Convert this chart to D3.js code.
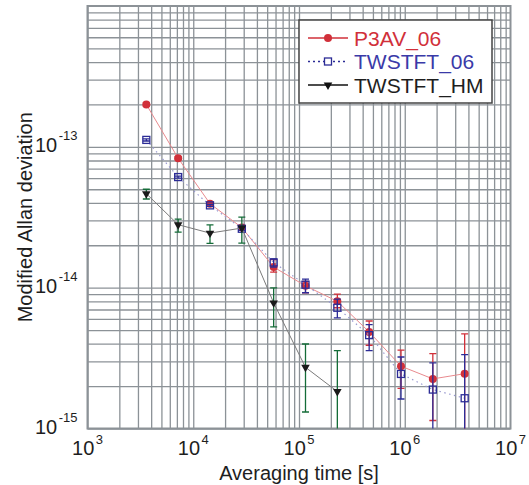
<!DOCTYPE html>
<html>
<head>
<meta charset="utf-8">
<script src="https://cdn.jsdelivr.net/npm/d3@7"></script>
<style>
  body { margin: 0; background: #fff; }
  text { font-family: "Liberation Sans", Arial, sans-serif; }
</style>
</head>
<body>
<div id="chart"></div>
<script>
// averaging times [s]
const taus = [3600, 7200, 14400, 28800, 57600, 115200, 230400, 460800, 921600, 1843200, 3686400];

const p3avValues = [2.0e-13, 8.3e-14, 3.95e-14, 2.67e-14, 1.40e-14, 1.03e-14, 8.0e-15, 4.85e-15, 2.77e-15, 2.25e-15, 2.45e-15];
const p3avUpper  = [2.05e-13, 8.5e-14, 4.05e-14, 2.75e-14, 1.58e-14, 1.11e-14, 9.0e-15, 5.8e-15, 3.6e-15, 3.4e-15, 4.7e-15];
const p3avLower  = [1.95e-13, 8.1e-14, 3.85e-14, 2.6e-14, 1.29e-14, 0.92e-14, 7.2e-15, 3.9e-15, 1.93e-15, 1.14e-15, 0.8e-15];

const tw06Values = [1.12e-13, 6.1e-14, 3.84e-14, 2.62e-14, 1.51e-14, 1.05e-14, 7.2e-15, 4.6e-15, 2.44e-15, 1.89e-15, 1.64e-15];
const tw06Upper  = [1.14e-13, 6.2e-14, 3.9e-14, 2.7e-14, 1.6e-14, 1.15e-14, 8.3e-15, 5.47e-15, 3.22e-15, 2.92e-15, 3.35e-15];
const tw06Lower  = [1.10e-13, 6.0e-14, 3.78e-14, 2.55e-14, 1.4e-14, 9.2e-15, 6.1e-15, 3.57e-15, 1.62e-15, 0.8e-15, 0.8e-15];

const hmTaus   = [3600, 7200, 14400, 28800, 57600, 115200, 230400];
const hmValues = [4.65e-14, 2.8e-14, 2.44e-14, 2.65e-14, 7.8e-15, 2.72e-15, 1.83e-15];
const hmUpper  = [5.0e-14, 3.07e-14, 2.79e-14, 3.17e-14, 9.95e-15, 3.98e-15, 3.57e-15];
const hmLower  = [4.26e-14, 2.48e-14, 2.06e-14, 2.07e-14, 5.26e-15, 1.31e-15, 0.8e-15];

const xTicks = [1e3, 1e4, 1e5, 1e6, 1e7];
const xExps = ["3", "4", "5", "6", "7"];
const yTicks = [1e-15, 1e-14, 1e-13];
const yExps = ["-15", "-14", "-13"];

const width = 529, height = 485;
const margin = { top: 6, right: 18.5, bottom: 56.5, left: 87.5 };
const innerWidth = width - margin.left - margin.right;
const innerHeight = height - margin.top - margin.bottom;

const svg = d3.select("#chart").append("svg")
  .attr("width", width).attr("height", height);

const g = svg.append("g").attr("transform", `translate(${margin.left},${margin.top})`);

const x = d3.scaleLog().domain([1e3, 1e7]).range([0, innerWidth]);
const y = d3.scaleLog().domain([1e-15, 1e-12]).range([innerHeight, 0]);

const gridColor = "#8c9297";
const textColor = "#1e1e1e";

// minor grid values
const xGrid = [];
for (let e = 3; e < 7; e++) for (let m = 1; m < 10; m++) xGrid.push(m * Math.pow(10, e));
const yGrid = [];
for (let e = -15; e < -12; e++) for (let m = 1; m < 10; m++) yGrid.push(m * Math.pow(10, e));

g.append("g")
  .attr("transform", `translate(0,${innerHeight})`)
  .call(d3.axisBottom(x).tickValues(xGrid).tickSize(-innerHeight).tickFormat(""))
  .call(a => a.select(".domain").remove())
  .call(a => a.selectAll("text").remove())
  .call(a => a.selectAll("line").attr("stroke", gridColor).attr("stroke-width", 1.3));

g.append("g")
  .call(d3.axisLeft(y).tickValues(yGrid).tickSize(-innerWidth).tickFormat(""))
  .call(a => a.select(".domain").remove())
  .call(a => a.selectAll("text").remove())
  .call(a => a.selectAll("line").attr("stroke", gridColor).attr("stroke-width", 1.3));

g.append("rect")
  .attr("width", innerWidth).attr("height", innerHeight)
  .attr("fill", "none").attr("stroke", gridColor).attr("stroke-width", 2);

// tick labels: "10" plus a raised exponent, as two texts
const gap = 1.5;
const xLab = g.append("g").attr("transform", `translate(0,${innerHeight})`)
  .selectAll("g").data(xTicks).join("g")
  .attr("transform", d => `translate(${x(d)},0)`);
xLab.each(function (d, i) {
  const t = d3.select(this);
  const base = t.append("text").attr("y", 26).attr("font-size", 20).attr("fill", textColor).text("10");
  const sup = t.append("text").attr("y", 15.5).attr("font-size", 13).attr("fill", textColor).text(xExps[i]);
  const w1 = base.node().getComputedTextLength(), w2 = sup.node().getComputedTextLength();
  const total = w1 + gap + w2;
  base.attr("x", -total / 2);
  sup.attr("x", -total / 2 + w1 + gap);
});

const yLab = g.append("g").selectAll("g").data(yTicks).join("g")
  .attr("transform", d => `translate(0,${y(d)})`);
yLab.each(function (d, i) {
  const t = d3.select(this);
  const sup = t.append("text").attr("x", -10).attr("y", -6.5).attr("text-anchor", "end")
    .attr("font-size", 13).attr("fill", textColor).text(yExps[i]);
  const w2 = sup.node().getComputedTextLength();
  t.append("text").attr("x", -10 - w2 - gap).attr("y", 5.5).attr("text-anchor", "end")
    .attr("font-size", 20).attr("fill", textColor).text("10");
});

svg.append("text")
  .attr("x", margin.left + innerWidth / 2).attr("y", 479.5)
  .attr("text-anchor", "middle").attr("font-size", 20).attr("fill", textColor)
  .text("Averaging time [s]");

svg.append("text")
  .attr("transform", `translate(32,${margin.top + innerHeight / 2}) rotate(-90)`)
  .attr("text-anchor", "middle").attr("font-size", 20).attr("fill", textColor)
  .text("Modified Allan deviation");

// data
svg.append("clipPath").attr("id", "clip")
  .append("rect").attr("width", innerWidth).attr("height", innerHeight);
const plot = g.append("g").attr("clip-path", "url(#clip)");

const red = "#d1303a", blue = "#2c2c96", green = "#146c38";

function series(ts, vals, lo, hi) {
  return ts.map((t, i) => ({ t, v: vals[i], lo: lo[i], hi: hi[i] }));
}
const p3av = series(taus, p3avValues, p3avLower, p3avUpper);
const tw06 = series(taus, tw06Values, tw06Lower, tw06Upper);
const hm = series(hmTaus, hmValues, hmLower, hmUpper);

const line = d3.line().x(d => x(d.t)).y(d => y(d.v));

function errorBars(data, color) {
  const cap = 3.5;
  const eg = plot.append("g").attr("stroke", color).attr("stroke-width", 1.3).attr("fill", "none");
  eg.selectAll("path").data(data).join("path")
    .attr("d", d => {
      const cx = x(d.t), y1 = y(d.hi), y2 = y(d.lo);
      return `M${cx - cap},${y1}H${cx + cap}M${cx},${y1}V${y2}M${cx - cap},${y2}H${cx + cap}`;
    });
}

// P3AV_06
plot.append("path").datum(p3av).attr("d", line)
  .attr("fill", "none").attr("stroke", "#e88a8e").attr("stroke-width", 1);
errorBars(p3av, red);
plot.append("g").selectAll("circle").data(p3av).join("circle")
  .attr("cx", d => x(d.t)).attr("cy", d => y(d.v)).attr("r", 4).attr("fill", red);

// TWSTFT_06
plot.append("path").datum(tw06).attr("d", line)
  .attr("fill", "none").attr("stroke", "#9a9ad0").attr("stroke-width", 1.2)
  .attr("stroke-dasharray", "1.5,3.5");
errorBars(tw06, blue);
plot.append("g").selectAll("rect").data(tw06).join("rect")
  .attr("x", d => x(d.t) - 3.5).attr("y", d => y(d.v) - 3.5)
  .attr("width", 7).attr("height", 7)
  .attr("fill", "none").attr("stroke", blue).attr("stroke-width", 1.3);

// TWSTFT_HM
plot.append("path").datum(hm).attr("d", line)
  .attr("fill", "none").attr("stroke", "#7a7a7a").attr("stroke-width", 1);
errorBars(hm, green);
const tri = d3.symbol().type(d3.symbolTriangle).size(32);
plot.append("g").selectAll("path").data(hm).join("path")
  .attr("d", tri)
  .attr("transform", d => `translate(${x(d.t)},${y(d.v)}) rotate(180)`)
  .attr("fill", "#1a1a1a");

// legend
const legend = svg.append("g");
legend.append("rect")
  .attr("x", 299).attr("y", 20).attr("width", 193).attr("height", 83)
  .attr("fill", "#fff").attr("stroke", "#444").attr("stroke-width", 1.5);

const legendNames = ["P3AV_06", "TWSTFT_06", "TWSTFT_HM"];
const legendColors = [red, "#3a3aa8", textColor];
const legendY = [38, 61.5, 85];

legendNames.forEach((name, i) => {
  const ly = legendY[i];
  const row = legend.append("g").attr("transform", `translate(0,${ly})`);
  const ln = row.append("line").attr("x1", 308).attr("x2", 348)
    .attr("stroke", i === 2 ? "#111" : legendColors[i]).attr("stroke-width", 1.3);
  if (i === 1) ln.attr("stroke-dasharray", "2,3").attr("stroke", blue);
  if (i === 0) row.append("circle").attr("cx", 328).attr("r", 4).attr("fill", red);
  if (i === 1) row.append("rect").attr("x", 324.5).attr("y", -3.5).attr("width", 7).attr("height", 7)
    .attr("fill", "#fff").attr("stroke", blue).attr("stroke-width", 1.3);
  if (i === 2) row.append("path").attr("d", tri)
    .attr("transform", "translate(328,0) rotate(180)").attr("fill", "#111");
  row.append("text").attr("x", 354).attr("y", 7.5)
    .attr("font-size", 21).attr("fill", legendColors[i]).text(name);
});
</script>
</body>
</html>
